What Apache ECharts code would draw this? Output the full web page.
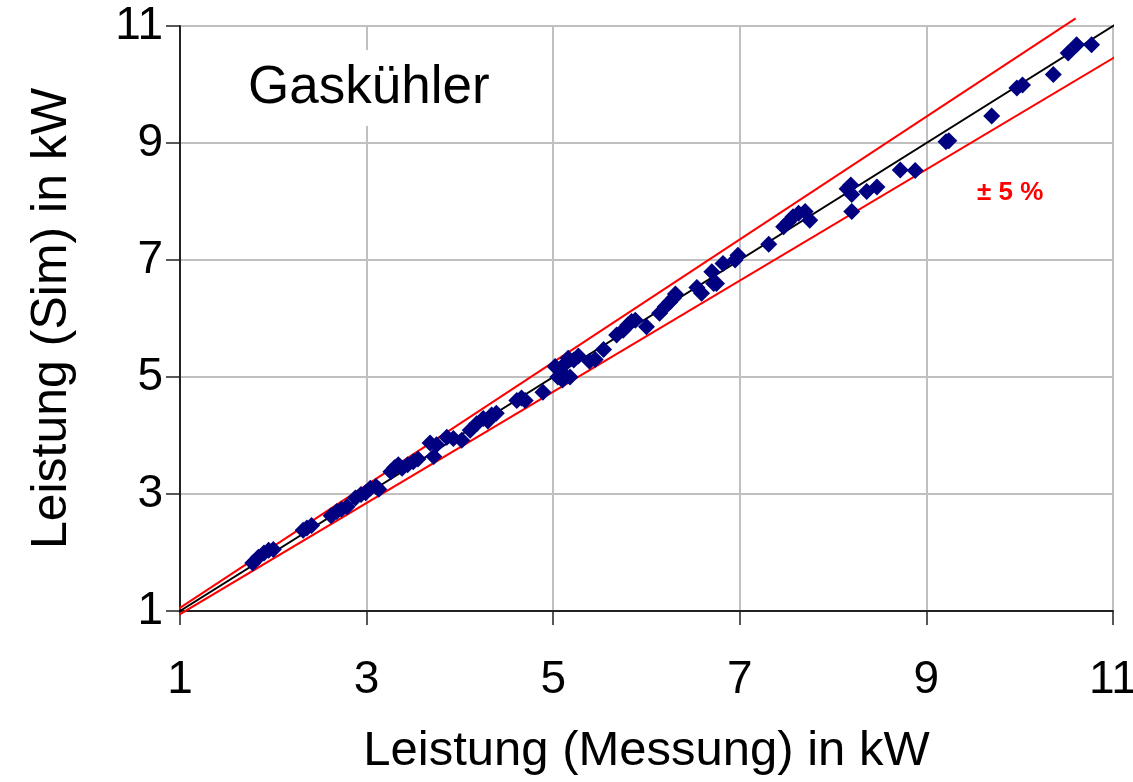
<!DOCTYPE html>
<html>
<head>
<meta charset="utf-8">
<script src="https://cdn.jsdelivr.net/npm/echarts@6/dist/echarts.min.js"></script>
<style>
	html, body { margin: 0; padding: 0; background: #fff; }
	#chart { width: 1133px; height: 782px; }
</style>
</head>
<body>
<div id="chart"></div>
<script>
// measured vs simulated gas cooler capacity, kW
const measured = [
	1.78, 1.84, 1.90, 1.95, 2.00,
	2.32, 2.36, 2.41,
	2.62, 2.68, 2.73, 2.79,
	2.88, 2.94, 2.99, 3.04, 3.10, 3.13,
	3.26, 3.30, 3.34, 3.38, 3.44, 3.50, 3.55,
	3.68, 3.72, 3.75, 3.86, 3.93, 4.02,
	4.11, 4.18, 4.25, 4.30, 4.34, 4.39,
	4.61, 4.66, 4.70, 4.89,
	5.02, 5.05, 5.08, 5.10, 5.13, 5.16, 5.18, 5.22, 5.27,
	5.39, 5.45, 5.54,
	5.68, 5.75, 5.80, 5.84, 5.88, 6.00,
	6.14, 6.20, 6.25, 6.29, 6.31,
	6.54, 6.59, 6.70, 6.72, 6.75,
	6.82, 6.95, 6.98,
	7.31,
	7.47, 7.52, 7.57, 7.63, 7.70, 7.75,
	8.15, 8.19, 8.20, 8.20, 8.36, 8.47,
	8.72, 8.88,
	9.21, 9.24,
	9.70,
	9.97, 10.03,
	10.36,
	10.52, 10.61, 10.77
];
const simulated = [
	1.82, 1.92, 1.99, 2.04, 2.05,
	2.38, 2.42, 2.46,
	2.63, 2.70, 2.74, 2.78,
	2.93, 2.99, 3.02, 3.10, 3.13, 3.08,
	3.38, 3.45, 3.50, 3.44, 3.50, 3.55, 3.60,
	3.87, 3.64, 3.84, 3.97, 3.95, 3.92,
	4.09, 4.20, 4.29, 4.25, 4.35, 4.38,
	4.60, 4.64, 4.60, 4.74,
	5.18, 5.00, 5.10, 4.95, 5.23, 5.32, 5.00, 5.29, 5.36,
	5.27, 5.30, 5.47,
	5.72, 5.80, 5.89, 5.95, 5.97, 5.86,
	6.09, 6.20, 6.28, 6.35, 6.42,
	6.53, 6.43, 6.80, 6.60, 6.60,
	6.94, 7.00, 7.08,
	7.27,
	7.57, 7.65, 7.74, 7.80, 7.83, 7.68,
	8.22, 8.28, 8.12, 7.83, 8.17, 8.25,
	8.54, 8.53,
	9.02, 9.04,
	9.46,
	9.94, 9.99,
	10.17,
	10.54, 10.68, 10.68
];

// reference lines: ideal (y = x) and the +/- 5 % band
const lineIdeal = [[0.92, 0.92], [11.1, 11.1]];
const linePlus5 = [[0.92, 0.97], [10.6, 11.13]];
const lineMinus5 = [[0.92, 0.87], [11.18, 10.62]];

const axisTicks = [1, 3, 5, 7, 9, 11];
const xTitle = 'Leistung (Messung) in kW';
const yTitle = 'Leistung (Sim) in kW';
const chartTitle = 'Gaskühler';
const bandLabel = '± 5 %';

function buildPoints() {
	let data = [];
	for (let i = 0; i < measured.length; i++) {
		data.push([measured[i], simulated[i]]);
	}
	return data;
}

function makeAxis(name, isX) {
	return {
		type: 'value',
		min: axisTicks[0],
		max: axisTicks[axisTicks.length - 1],
		interval: 2,
		name: name,
		nameLocation: 'middle',
		nameGap: isX ? 116 : 103,
		nameTextStyle: {
			fontFamily: 'Liberation Sans, Arial, sans-serif',
			fontSize: isX ? 49 : 50,
			color: '#000'
		},
		axisLine: {
			show: true,
			onZero: false,
			lineStyle: { color: '#222', width: 2 }
		},
		axisTick: {
			show: true,
			inside: false,
			length: 14,
			lineStyle: { color: '#222', width: 1.5 }
		},
		axisLabel: {
			margin: isX ? 46 : 17,
			fontFamily: 'Liberation Sans, Arial, sans-serif',
			fontSize: 46,
			color: '#000'
		},
		splitLine: {
			show: true,
			lineStyle: { color: '#c0c0c0', width: 2 }
		}
	};
}

function lineSeries(data, color) {
	return {
		type: 'line',
		data: data,
		symbol: 'none',
		clip: false,
		z: 2,
		lineStyle: { color: color, width: 2 }
	};
}

var chartDom = document.getElementById('chart');
var myChart = echarts.init(chartDom);
var option;

option = {
	animation: false,
	backgroundColor: '#fff',
	grid: {
		left: 180,
		right: 20,
		top: 26,
		bottom: 171,
		containLabel: false,
		outerBoundsMode: 'none'
	},
	xAxis: makeAxis(xTitle, true),
	yAxis: makeAxis(yTitle, false),
	graphic: [
		{
			type: 'rect',
			shape: { x: 230, y: 50, width: 280, height: 76 },
			style: { fill: '#fff' },
			z: 10
		},
		{
			type: 'text',
			left: 248,
			top: 62,
			z: 11,
			style: {
				text: chartTitle,
				fill: '#000',
				font: '53px "Liberation Sans", Arial, sans-serif'
			}
		},
		{
			type: 'text',
			left: 977,
			top: 180,
			z: 11,
			style: {
				text: bandLabel,
				fill: '#ff0000',
				font: 'bold 26px "Liberation Sans", Arial, sans-serif'
			}
		}
	],
	series: [
		lineSeries(lineIdeal, '#000'),
		lineSeries(linePlus5, '#ff0000'),
		lineSeries(lineMinus5, '#ff0000'),
		{
			type: 'scatter',
			data: buildPoints(),
			symbol: 'diamond',
			symbolSize: 17,
			z: 5,
			itemStyle: { color: '#000080', opacity: 1 }
		}
	]
};

option && myChart.setOption(option);
</script>
</body>
</html>
